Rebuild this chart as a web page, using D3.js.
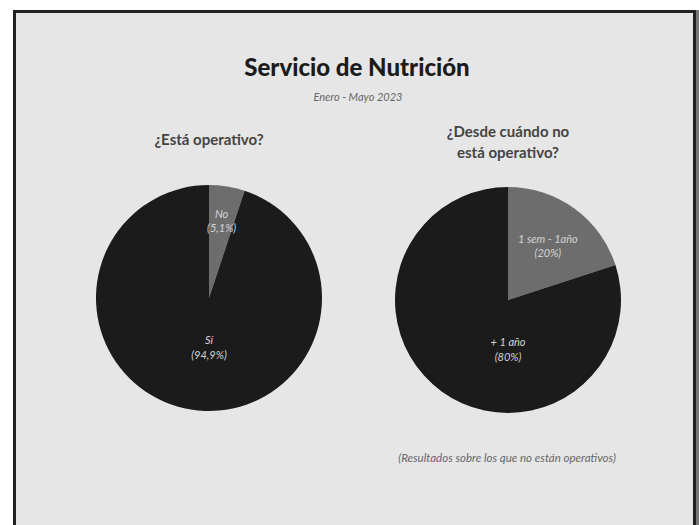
<!DOCTYPE html>
<html>
<head>
<meta charset="utf-8">
<script src="https://cdn.jsdelivr.net/npm/d3@7"></script>
<style>
  body { margin: 0; background: #fff; }
  svg { display: block; }
</style>
</head>
<body>
<svg width="699" height="525"></svg>
<script>
// data
var operCategories = ["No", "Sí"];
var operValues = [5.1, 94.9];
var operLabels = ["(5,1%)", "(94,9%)"];

var sinceCategories = ["1 sem - 1año", "+ 1 año"];
var sinceValues = [20, 80];
var sinceLabels = ["(20%)", "(80%)"];

var svg = d3.select("svg");

// frame
svg.append("rect")
	.attr("x", 14.5).attr("y", 11.5)
	.attr("width", 680).attr("height", 530)
	.attr("fill", "#e6e6e6")
	.attr("stroke", "#222").attr("stroke-width", 3);
svg.append("rect")
	.attr("x", 696).attr("y", 10).attr("width", 3).attr("height", 515)
	.attr("fill", "#777");

// titles
svg.append("text")
	.attr("x", 357).attr("y", 76)
	.attr("text-anchor", "middle")
	.style("font-family", "Lato, 'Open Sans', sans-serif")
	.style("font-weight", 900).style("font-size", "24px")
	.attr("fill", "#1b1b1b")
	.text("Servicio de Nutrición");

svg.append("text")
	.attr("x", 358).attr("y", 101)
	.attr("text-anchor", "middle")
	.style("font-family", "Lato, sans-serif")
	.style("font-style", "italic").style("font-size", "11px")
	.attr("fill", "#666")
	.text("Enero - Mayo 2023");

var subStyle = function(t) {
	t.attr("text-anchor", "middle")
		.style("font-family", "Lato, 'Open Sans', sans-serif")
		.style("font-weight", 700).style("font-size", "15px")
		.attr("fill", "#444");
};
svg.append("text").attr("x", 209).attr("y", 145).call(subStyle).text("¿Está operativo?");
svg.append("text").attr("x", 508).attr("y", 137).call(subStyle).text("¿Desde cuándo no");
svg.append("text").attr("x", 508).attr("y", 158).call(subStyle).text("está operativo?");

svg.append("text")
	.attr("x", 507).attr("y", 462)
	.attr("text-anchor", "middle")
	.style("font-family", "Lato, sans-serif")
	.style("font-style", "italic").style("font-size", "11.5px")
	.attr("fill", "#666")
	.text("(Resultados sobre los que no están operativos)");

// pies
var radius = 113;
var colors = d3.scaleOrdinal().range(["#6d6d6d", "#1b1b1b"]);

function drawPie(cx, cy, cats, vals, pcts) {
	var g = svg.append("g").attr("transform", "translate(" + cx + "," + cy + ")");
	var pie = d3.pie().sort(null).value(d => d)(vals);
	var arc = d3.arc().innerRadius(0).outerRadius(radius);
	var maxV = d3.max(vals);

	g.selectAll("path")
		.data(pie)
		.enter().append("path")
		.attr("d", arc)
		.attr("fill", (d, i) => colors(i));

	var lab = g.selectAll(".lab")
		.data(pie)
		.enter().append("text")
		.attr("class", "lab")
		.attr("text-anchor", "middle")
		.style("font-family", "Lato, sans-serif")
		.style("font-style", "italic").style("font-size", "11px")
		.attr("fill", "#d4d4d4")
		.attr("transform", function(d) {
			var a, r;
			if (d.value === maxV) { a = Math.PI; r = radius * 0.43; }
			else { a = (d.startAngle + d.endAngle) / 2; r = radius * (d.value < 10 ? 0.7 : 0.6); }
			return "translate(" + (r * Math.sin(a)) + "," + (-r * Math.cos(a)) + ")";
		});
	lab.append("tspan").attr("x", 0).attr("dy", "-0.2em").text((d, i) => cats[i]);
	lab.append("tspan").attr("x", 0).attr("dy", "1.3em").text((d, i) => pcts[i]);
}

drawPie(209, 298, operCategories, operValues, operLabels);
drawPie(508, 300, sinceCategories, sinceValues, sinceLabels);
</script>
</body>
</html>
